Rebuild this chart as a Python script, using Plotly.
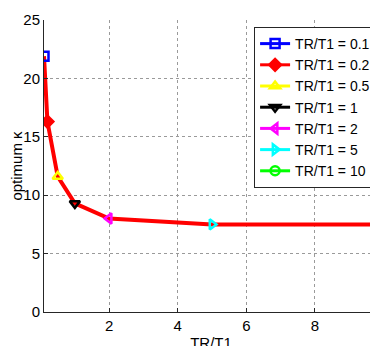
import plotly.graph_objects as go

tr_t1 = [0.1, 0.2, 0.5, 1, 2, 5, 10]
kappa = [21.9, 16.3, 11.6, 9.3, 8.0, 7.5, 7.5]
labels = ["TR/T1 = 0.1", "TR/T1 = 0.2", "TR/T1 = 0.5", "TR/T1 = 1",
          "TR/T1 = 2", "TR/T1 = 5", "TR/T1 = 10"]
colors = ["#0000ff", "#ff0000", "#ffff00", "#000000", "#ff00ff", "#00ffff", "#00ff00"]
symbols = ["square-open", "diamond", "triangle-up-open", "triangle-down-open",
           "triangle-left-open", "triangle-right-open", "circle-open"]
x_ticks = [2, 4, 6, 8, 10]
y_ticks = [0, 5, 10, 15, 20, 25]

fig = go.Figure()
fig.add_trace(go.Scatter(x=tr_t1, y=kappa, mode="lines",
                         line=dict(color="#ff0000", width=4),
                         showlegend=False, hoverinfo="skip"))
for xv, yv, lab, c, s in zip(tr_t1, kappa, labels, colors, symbols):
    fig.add_trace(go.Scatter(
        x=[xv], y=[yv], mode="lines+markers", name=lab,
        line=dict(color=c, width=3),
        marker=dict(symbol=s, size=9, color=c, line=dict(color=c, width=2.5)),
    ))

font = "Liberation Sans, Arial, sans-serif"
fig.update_layout(
    width=378, height=346,
    margin=dict(l=36, r=8, t=12, b=42, autoexpand=False),
    paper_bgcolor="white", plot_bgcolor="white",
    font=dict(family=font, size=15, color="black"),
    showlegend=True,
    legend=dict(x=0.629, y=0.976, xanchor="left", yanchor="top",
                bgcolor="white", bordercolor="#262626", borderwidth=1,
                font=dict(size=14), tracegroupgap=0, itemwidth=30),
    xaxis=dict(range=[0.1, 9.84], tickvals=x_ticks, showgrid=True,
               gridcolor="#9a9a9a", griddash="dot", gridwidth=1,
               showline=True, linecolor="#262626", linewidth=1,
               ticks="inside", ticklen=4, tickcolor="#262626",
               zeroline=False, automargin=False,
               title=dict(text="TR/T1", standoff=4, font=dict(size=15))),
    yaxis=dict(range=[0, 25], tickvals=y_ticks, showgrid=True,
               gridcolor="#9a9a9a", griddash="dot", gridwidth=1,
               showline=True, linecolor="#262626", linewidth=1,
               ticks="inside", ticklen=4, tickcolor="#262626",
               zeroline=False, automargin=False,
               title=dict(text="optimum κ", standoff=8, font=dict(size=15))),
)
fig.write_html("out.html")
